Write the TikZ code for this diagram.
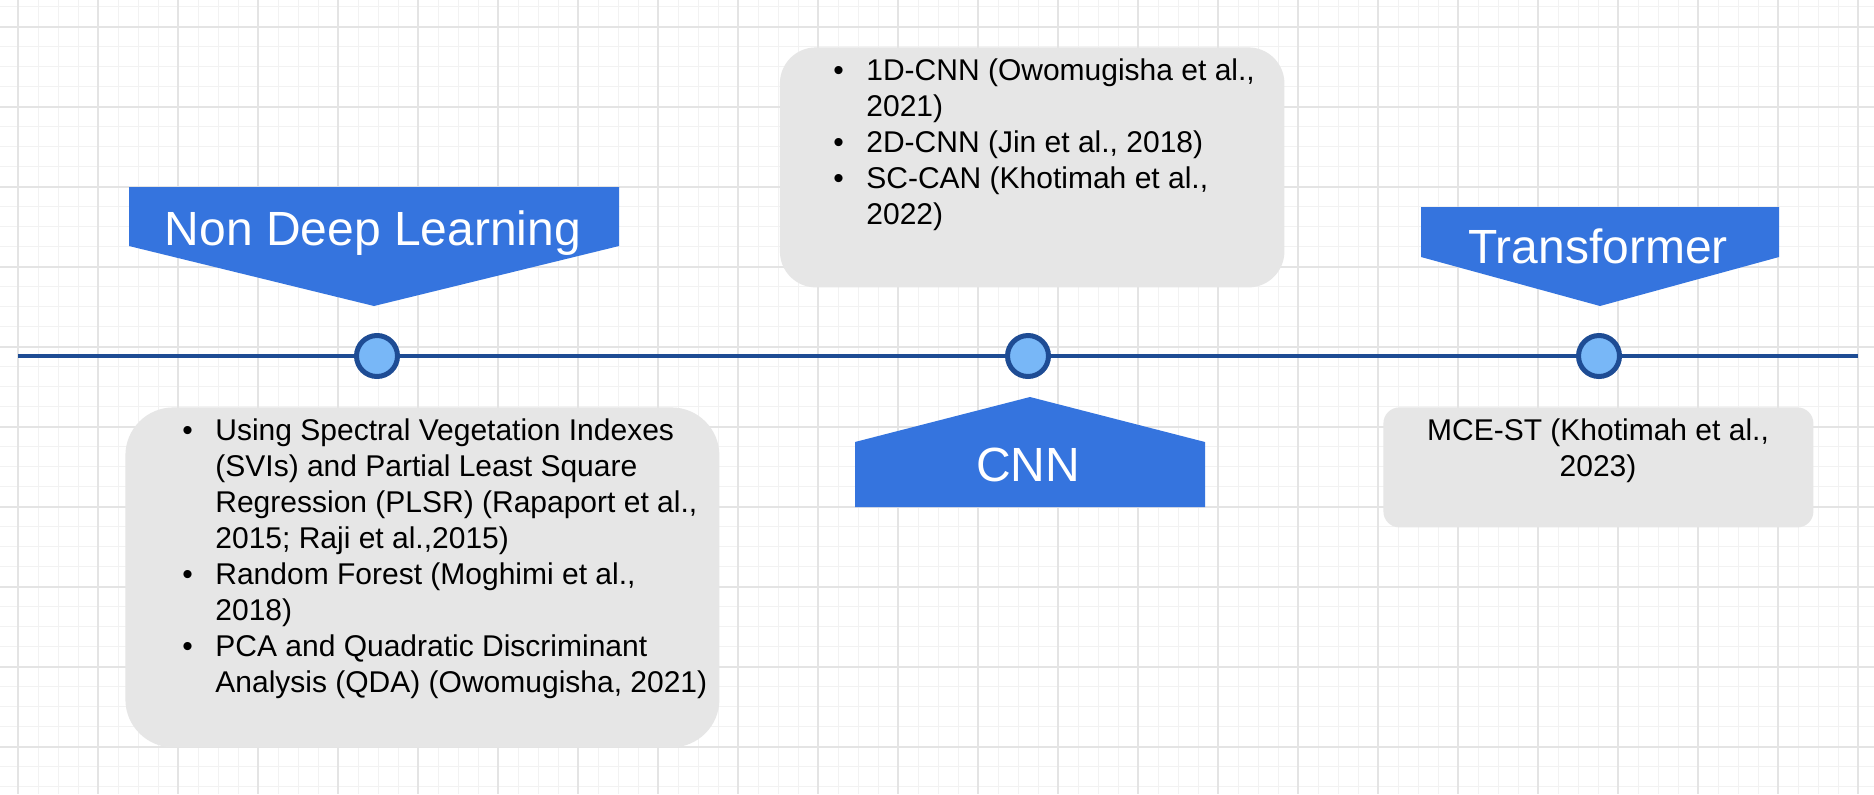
\documentclass[tikz,border=0pt]{standalone}
\usepackage{fontspec}
\setmainfont{Liberation Sans}

\definecolor{bannerblue}{HTML}{3574DE}
\definecolor{boxgray}{HTML}{E6E6E6}
\definecolor{dotfill}{HTML}{78B7F7}
\definecolor{lineblue}{HTML}{1E4C94}
\definecolor{majorgrid}{HTML}{E4E4E4}
\definecolor{minorgrid}{HTML}{F2F2F2}

% bullet and continuation indents for the list boxes
\newcommand{\bul}{\makebox[16.5pt][l]{\textbullet}}
\newcommand{\nob}{\hspace*{16.5pt}}

\begin{document}
\begin{tikzpicture}[x=0.5pt,y=-0.5pt,
  minorline/.style={draw=minorgrid,line width=0.75pt},
  majorline/.style={draw=majorgrid,line width=1pt},
  timeline/.style={draw=lineblue,line width=2pt},
  dot/.style={circle,draw=lineblue,fill=dotfill,line width=2.5pt,minimum size=20.5pt,inner sep=0pt},
  banner/.style={fill=bannerblue},
  bannertext/.style={text=white,inner sep=0pt,font=\fontsize{24pt}{28pt}\selectfont},
  graybox/.style={fill=boxgray,draw=none,inner sep=0pt,anchor=north west},
  listtext/.style={inner sep=0pt,font=\fontsize{15pt}{18pt}\selectfont}
]
\useasboundingbox (0,0) rectangle (1874,794);
\fill[white] (0,0) rectangle (1874,794);

% background grid
\begin{scope}
  \clip (0,0) rectangle (1874,794);
  \foreach \k in {-1,...,93} \draw[minorline] ({18.33+20*\k},0) -- ({18.33+20*\k},794);
  \foreach \k in {-1,...,39} \draw[minorline] (0,{26.67+20*\k}) -- (1874,{26.67+20*\k});
  \foreach \k in {0,...,23} \draw[majorline] ({18.33+80*\k},0) -- ({18.33+80*\k},794);
  \foreach \k in {0,...,9} \draw[majorline] (0,{26.67+80*\k}) -- (1874,{26.67+80*\k});
\end{scope}

% timeline axis
\coordinate (tlstart) at (18.3,356);
\coordinate (tlend) at (1858.3,356);
\draw[timeline] (tlstart) -- (tlend);

% milestones
\node[dot] (m1) at (377,356) {};
\node[dot] (m2) at (1028,356) {};
\node[dot] (m3) at (1599,356) {};

% banners
\fill[banner] (129,187) -- (619,187) -- (619,246) -- (374,306) -- (129,246) -- cycle;
\node[bannertext,anchor=base] (ndl) at (373,245) {Non Deep Learning};

\fill[banner] (855,507) -- (855,442) -- (1030,397) -- (1205,442) -- (1205,507) -- cycle;
\node[bannertext,anchor=base] (cnn) at (1028,481.7) {CNN};

\fill[banner] (1421,207) -- (1779,207) -- (1779,257) -- (1600,306) -- (1421,257) -- cycle;
\node[bannertext,anchor=base] (trf) at (1598,263.3) {Transformer};

% method boxes
\node[graybox,rounded corners=24pt,minimum width=297pt,minimum height=170pt] (ndlbox) at (125,407) {};
\node[graybox,rounded corners=18pt,minimum width=252.25pt,minimum height=120pt] (cnnbox) at (779.5,47) {};
\node[graybox,rounded corners=8pt,minimum width=215pt,minimum height=60pt] (trfbox) at (1383,407) {};

\node[listtext,anchor=base west] (ndllist) at (182,440) {%
\begin{tabular}[t]{@{}l@{}}
\bul Using Spectral Vegetation Indexes\\
\nob (SVIs) and Partial Least Square\\
\nob Regression (PLSR) (Rapaport et al.,\\
\nob 2015; Raji et al.,2015)\\
\bul Random Forest (Moghimi et al.,\\
\nob 2018)\\
\bul PCA and Quadratic Discriminant\\
\nob Analysis (QDA) (Owomugisha, 2021)
\end{tabular}};

\node[listtext,anchor=base west] (cnnlist) at (833,80) {%
\begin{tabular}[t]{@{}l@{}}
\bul 1D-CNN (Owomugisha et al.,\\
\nob 2021)\\
\bul 2D-CNN (Jin et al., 2018)\\
\bul SC-CAN (Khotimah et al.,\\
\nob 2022)
\end{tabular}};

\node[listtext,anchor=base] (trflist) at (1598,440) {%
\begin{tabular}[t]{@{}c@{}}
MCE-ST (Khotimah et al.,\\
2023)
\end{tabular}};
\end{tikzpicture}
\end{document}
